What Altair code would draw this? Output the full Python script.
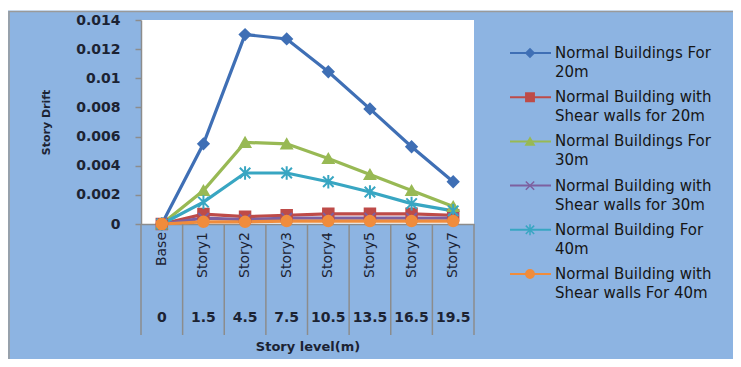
import altair as alt
import pandas as pd

categories = ["Base", "Story1", "Story2", "Story3", "Story4", "Story5", "Story6", "Story7"]
levels = ["0", "1.5", "4.5", "7.5", "10.5", "13.5", "16.5", "19.5"]

series = [
    "Normal Buildings For 20m",
    "Normal Building with Shear walls for 20m",
    "Normal Buildings For 30m",
    "Normal Building with Shear walls for 30m",
    "Normal Building For 40m",
    "Normal Building with Shear walls For 40m",
]
legend_labels = [
    "Normal Buildings For\n20m",
    "Normal Building with\nShear walls for 20m",
    "Normal Buildings For\n30m",
    "Normal Building with\nShear walls for 30m",
    "Normal Building For\n40m",
    "Normal Building with\nShear walls For 40m",
]

normal_20 = [0.0, 0.0055, 0.0130, 0.0127, 0.01045, 0.0079, 0.0053, 0.0029]
shear_20 = [0.0, 0.00068, 0.0005, 0.0006, 0.0007, 0.0007, 0.0007, 0.0006]
normal_30 = [0.0, 0.0023, 0.0056, 0.0055, 0.0045, 0.0034, 0.0023, 0.0012]
shear_30 = [0.0, 0.0004, 0.0003, 0.0004, 0.0004, 0.0004, 0.0004, 0.0004]
normal_40 = [0.0, 0.0015, 0.0035, 0.0035, 0.0029, 0.0022, 0.0014, 0.0009]
shear_40 = [0.0, 0.00015, 0.00015, 0.0002, 0.0002, 0.0002, 0.0002, 0.0002]

y_ticks = [0, 0.002, 0.004, 0.006, 0.008, 0.01, 0.012, 0.014]

colors = ["#3F6FB5", "#BE4B48", "#98B954", "#7D60A0", "#38A6C2", "#F08C3C"]
shapes = [
    "diamond",
    "square",
    "triangle-up",
    "M-1,-1L1,1M-1,1L1,-1",
    "M-1,-1L1,1M-1,1L1,-1M0,-1.3L0,1.3",
    "circle",
]

all_values = [normal_20, shear_20, normal_30, shear_30, normal_40, shear_40]
rows = []
for s, vals in zip(series, all_values):
    for i, (c, v) in enumerate(zip(categories, vals)):
        rows.append({"series": s, "idx": i, "cat": c, "drift": v})
df = pd.DataFrame(rows)
cat_df = pd.DataFrame({"idx": list(range(len(categories))), "cat": categories, "level": levels})
sep_df = pd.DataFrame({"pos": [i - 0.5 for i in range(len(categories) + 1)]})
leg_df = pd.DataFrame({"series": series, "label": legend_labels, "li": list(range(len(series)))})

W, H = 333, 204
FONT = "DejaVu Sans"
TXT = "#1c2333"
GRID = "#8c8c8c"

xscale = alt.Scale(domain=[-0.5, 7.5], nice=False, zero=False)
yscale = alt.Scale(domain=[0, 0.014], nice=False)
color_scale = alt.Scale(domain=series, range=colors)
shape_scale = alt.Scale(domain=series, range=shapes)

x_axis = alt.Axis(
    labels=False, ticks=False, grid=False, domainColor=GRID, domainWidth=1.5,
    title="Story level(m)", titleFont=FONT, titleFontSize=13, titleFontWeight="bold",
    titleColor=TXT, titlePadding=116)
y_axis = alt.Axis(
    values=y_ticks, format="~g",
    labelOverlap=False, labelFlush=False,
    labelFont=FONT, labelFontSize=14, labelFontWeight="bold", labelColor=TXT,
    labelPadding=15, tickSize=6, tickColor=GRID, tickWidth=1.5,
    domainColor=GRID, domainWidth=1.5, grid=False,
    title="Story Drift", titleFont=FONT, titleFontSize=11, titleFontWeight="bold",
    titleColor=TXT, titlePadding=24)

lines = alt.Chart(df).mark_line(strokeWidth=3.2).encode(
    x=alt.X("idx:Q", scale=xscale, axis=x_axis),
    y=alt.Y("drift:Q", scale=yscale, axis=y_axis),
    color=alt.Color("series:N", scale=color_scale, legend=None),
    order=alt.Order("idx:Q"),
)

points = alt.Chart(df).mark_point(filled=True, size=110, strokeWidth=2, opacity=1).encode(
    x=alt.X("idx:Q", scale=xscale, axis=x_axis),
    y=alt.Y("drift:Q", scale=yscale, axis=y_axis),
    color=alt.Color("series:N", scale=color_scale, legend=None),
    stroke=alt.Stroke("series:N", scale=color_scale, legend=None),
    shape=alt.Shape("series:N", scale=shape_scale, legend=None),
)

seps = alt.Chart(sep_df).mark_rule(color=GRID, strokeWidth=1.5).encode(
    x=alt.X("pos:Q", scale=xscale, axis=x_axis),
    y=alt.value(H),
    y2=alt.value(H + 111),
)

cat_labels = alt.Chart(cat_df).mark_text(
    angle=270, align="right", baseline="middle", font=FONT, fontSize=14, color=TXT
).encode(
    x=alt.X("idx:Q", scale=xscale, axis=x_axis),
    y=alt.value(H + 8),
    text="cat:N",
)

level_labels = alt.Chart(cat_df).mark_text(
    align="center", baseline="middle", font=FONT, fontSize=14, fontWeight="bold", color=TXT
).encode(
    x=alt.X("idx:Q", scale=xscale, axis=x_axis),
    y=alt.value(H + 94),
    text="level:N",
)

main = alt.layer(lines, points, seps, cat_labels, level_labels)

leg_y = alt.Y("li:Q", scale=alt.Scale(domain=[0, 5], range=[33, 254], nice=False, zero=False), axis=None)

leg_lines = alt.Chart(leg_df).mark_rule(strokeWidth=2).encode(
    x=alt.value(369), x2=alt.value(410), y=leg_y,
    color=alt.Color("series:N", scale=color_scale, legend=None),
)
leg_points = alt.Chart(leg_df).mark_point(filled=True, size=70, strokeWidth=1.5, opacity=1).encode(
    x=alt.value(389), y=leg_y,
    color=alt.Color("series:N", scale=color_scale, legend=None),
    stroke=alt.Stroke("series:N", scale=color_scale, legend=None),
    shape=alt.Shape("series:N", scale=shape_scale, legend=None),
)
leg_text = alt.Chart(leg_df).mark_text(
    align="left", baseline="alphabetic", dy=5, font=FONT, fontSize=15, color="#161616",
    lineBreak="\n", lineHeight=19,
).encode(
    x=alt.value(414), y=leg_y, text="label:N",
)

legend = alt.layer(leg_lines, leg_points, leg_text)

frame_df = pd.DataFrame({"k": [0]})
frame = alt.Chart(frame_df).mark_rect(fillOpacity=0, stroke="#9a9a9a", strokeWidth=1.5).encode(
    x=alt.value(-132), x2=alt.value(W + 320), y=alt.value(-8.5), y2=alt.value(H + 200),
)
top_strip = alt.Chart(frame_df).mark_rect(color="white").encode(
    x=alt.value(-140), x2=alt.value(W + 320), y=alt.value(-13), y2=alt.value(-9.5),
)

chart = alt.layer(frame, top_strip, main, legend).resolve_scale(y="independent").properties(
    width=W, height=H,
    padding={"left": 133, "top": 12, "right": 259, "bottom": 135},
    autosize=alt.AutoSizeParams(type="none"),
    background="#8DB4E2",
).configure_view(fill="white", strokeWidth=0)

chart.save("out.html", embed_options={"renderer": "svg", "actions": False})
